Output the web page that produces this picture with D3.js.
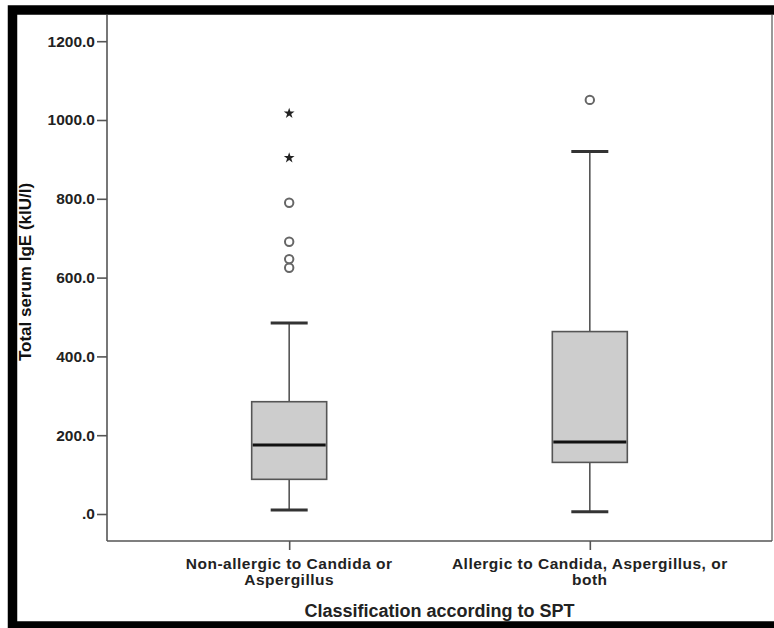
<!DOCTYPE html>
<html lang="en">
<head>
<meta charset="UTF-8">
<title>Total serum IgE by SPT classification</title>
<script src="https://d3js.org/d3.v7.min.js"></script>
<style>
  body { margin: 0; background: #fff; }
  svg { display: block; font-family: "Liberation Sans", Arial, sans-serif; }
  .axis text { font-weight: bold; fill: #222; }
  .axis path, .axis line { stroke: #555; stroke-width: 1.6px; }
</style>
</head>
<body>
<div id="chart"></div>
<script>
// categories and box statistics (kIU/l)
const groups = ["Non-allergic to Candida or Aspergillus", "Allergic to Candida, Aspergillus, or both"];
const groupLines = [["Non-allergic to Candida or", "Aspergillus"], ["Allergic to Candida, Aspergillus, or", "both"]];
const whiskerLow = [10, 6];
const q1 = [88, 131];
const median = [175, 183];
const q3 = [285, 463];
const whiskerHigh = [485, 920];
const outliers = [[625, 647, 691, 790], [1051]];
const extremes = [[904, 1017], []];
const yTicks = [0, 200, 400, 600, 800, 1000, 1200];

const W = 774, H = 628;
const plotL = 107, plotR = 772, plotT = 15, plotB = 541;

const svg = d3.select("#chart").append("svg")
  .attr("width", W).attr("height", H);

const x = d3.scalePoint().domain(groups).range([plotL, plotR]).padding(0.606);
const y = d3.scaleLinear().domain([0, 1200]).range([514, 41.2]);

// plot frame: right edge
svg.append("line")
  .attr("x1", plotR).attr("x2", plotR).attr("y1", plotT).attr("y2", plotB)
  .attr("stroke", "#777").attr("stroke-width", 1.5);

// y axis
const yAxis = svg.append("g").attr("class", "axis")
  .attr("transform", `translate(${plotL},0)`)
  .call(d3.axisLeft(y).tickValues(yTicks).tickSize(10).tickPadding(2)
    .tickFormat(d => d === 0 ? ".0" : d3.format(".1f")(d)));
yAxis.select(".domain").attr("d", `M0,${plotT}V${plotB}`);
yAxis.selectAll("text").style("font-size", "15.5px");

// x axis
const xAxis = svg.append("g").attr("class", "axis")
  .attr("transform", `translate(0,${plotB})`)
  .call(d3.axisBottom(x).tickSize(9).tickSizeOuter(0).tickFormat(""));
xAxis.select(".domain").attr("d", `M${plotL},0H${plotR}`);

groups.forEach((g, i) => {
  const t = svg.append("text")
    .attr("x", x(g)).attr("y", 568.5)
    .attr("text-anchor", "middle")
    .style("font-weight", "bold").style("font-size", "15.5px")
    .style("letter-spacing", "0.5px").style("fill", "#222");
  groupLines[i].forEach((ln, j) => {
    t.append("tspan").attr("x", x(g)).attr("dy", j === 0 ? 0 : 16).text(ln);
  });
});

svg.append("text")
  .attr("x", (plotL + plotR) / 2).attr("y", 617)
  .attr("text-anchor", "middle")
  .style("font-weight", "bold").style("font-size", "18px").style("fill", "#222")
  .text("Classification according to SPT");

svg.append("text")
  .attr("transform", "translate(30.5,272) rotate(-90)")
  .attr("text-anchor", "middle")
  .style("font-weight", "bold").style("font-size", "17px").style("fill", "#111")
  .text("Total serum IgE (kIU/l)");

// boxes
const boxW = 75, capW = 37;
const boxes = svg.append("g").selectAll("g").data(groups).join("g");

boxes.append("line")
  .attr("x1", d => x(d)).attr("x2", d => x(d))
  .attr("y1", (d, i) => y(whiskerHigh[i])).attr("y2", (d, i) => y(q3[i]))
  .attr("stroke", "#555").attr("stroke-width", 1.6);
boxes.append("line")
  .attr("x1", d => x(d)).attr("x2", d => x(d))
  .attr("y1", (d, i) => y(q1[i])).attr("y2", (d, i) => y(whiskerLow[i]))
  .attr("stroke", "#555").attr("stroke-width", 1.6);

[whiskerHigh, whiskerLow].forEach(arr => {
  boxes.append("line")
    .attr("x1", d => x(d) - capW / 2).attr("x2", d => x(d) + capW / 2)
    .attr("y1", (d, i) => y(arr[i])).attr("y2", (d, i) => y(arr[i]))
    .attr("stroke", "#333").attr("stroke-width", 3);
});

boxes.append("rect")
  .attr("x", d => x(d) - boxW / 2).attr("width", boxW)
  .attr("y", (d, i) => y(q3[i])).attr("height", (d, i) => y(q1[i]) - y(q3[i]))
  .attr("fill", "#cdcdcd").attr("stroke", "#555").attr("stroke-width", 1.6);

boxes.append("line")
  .attr("x1", d => x(d) - boxW / 2 + 1).attr("x2", d => x(d) + boxW / 2 - 1)
  .attr("y1", (d, i) => y(median[i])).attr("y2", (d, i) => y(median[i]))
  .attr("stroke", "#111").attr("stroke-width", 3);

// outliers (circles) and extremes (stars)
groups.forEach((g, i) => {
  svg.append("g").selectAll("circle").data(outliers[i]).join("circle")
    .attr("cx", x(g)).attr("cy", d => y(d)).attr("r", 4.2)
    .attr("fill", "#fff").attr("stroke", "#666").attr("stroke-width", 2);
  svg.append("g").selectAll("path").data(extremes[i]).join("path")
    .attr("transform", d => `translate(${x(g)},${y(d)})`)
    .attr("d", d3.symbol(d3.symbolStar, 36))
    .attr("fill", "#222");
});

// outer black frame
svg.append("rect")
  .attr("x", 12.5).attr("y", 10).attr("width", 780).attr("height", 616)
  .attr("fill", "none").attr("stroke", "#000").attr("stroke-width", 9.5);
</script>
</body>
</html>
